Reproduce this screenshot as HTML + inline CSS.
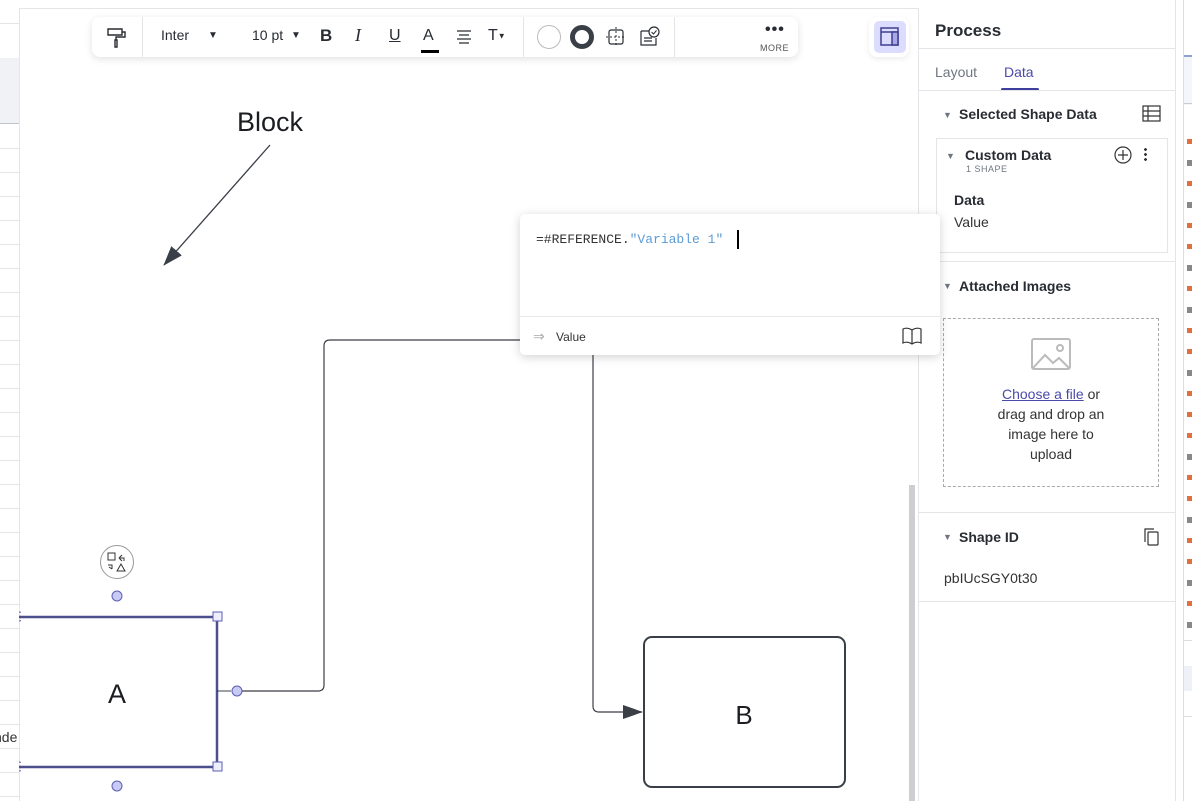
<!DOCTYPE html>
<html><head><meta charset="utf-8"><style>
*{box-sizing:border-box;margin:0;padding:0}
body{width:1192px;height:801px;overflow:hidden;background:#fff;font-family:"Liberation Sans",sans-serif;position:relative;color:#282c33}
.abs{position:absolute}
.tb{left:92px;top:17px;width:706px;height:40px;background:#fff;border-radius:8px;box-shadow:0 2px 8px rgba(0,0,0,.12)}
.sep{position:absolute;top:0;width:1px;height:40px;background:#e3e5e8}
.ti{position:absolute;top:10px;font-size:15px;color:#282c33}
.panel{left:918px;top:8px;width:257px;height:793px;border-left:1px solid #e3e5e8;background:#fff}
.hl{position:absolute;left:0;width:257px;height:1px;background:#e3e5e8}
.bold{font-weight:bold;font-size:14px;color:#282c33}
.tri{font-size:9px;color:#6f7681}
</style></head><body>
<!-- top line -->
<div class="abs" style="left:0;top:8px;width:1175px;height:1px;background:#e3e5e8"></div>

<!-- canvas diagram -->
<svg class="abs" style="left:0;top:0" width="918" height="801">
<defs><marker id="ah" markerWidth="20" markerHeight="14" refX="19" refY="7" orient="auto" markerUnits="userSpaceOnUse"><path d="M0,0 L20,7 L0,14 z" fill="#3a3f47"/></marker></defs>
<line x1="270" y1="145" x2="164" y2="265" stroke="#3a3f47" stroke-width="1.3" marker-end="url(#ah)"/>
<path d="M237,691 H318 Q324,691 324,685 V346 Q324,340 330,340 H520" fill="none" stroke="#3a3f47" stroke-width="1.2"/>
<path d="M593,350 V706 Q593,712 599,712 H642" fill="none" stroke="#3a3f47" stroke-width="1.2" marker-end="url(#ah)"/>
<rect x="644" y="637" width="201" height="150" rx="8" fill="#fff" stroke="#3a3f47" stroke-width="2"/>
<text x="744" y="724" font-size="26" text-anchor="middle" fill="#1b1d21" font-family="Liberation Sans">B</text>
<rect x="10" y="617" width="207" height="150" fill="none" stroke="#4b4f8c" stroke-width="2.5"/>
<line x1="217" y1="691" x2="231" y2="691" stroke="#3a3f47" stroke-width="1"/>
<text x="117" y="703" font-size="27" text-anchor="middle" fill="#1b1d21" font-family="Liberation Sans">A</text>
<rect x="213" y="612" width="9" height="9" fill="#eef" stroke="#5a5fb0"/>
<rect x="213" y="762" width="9" height="9" fill="#eef" stroke="#5a5fb0"/>
<circle cx="237" cy="691" r="5" fill="#c9c9f5" stroke="#5a5fb0"/>
<circle cx="117" cy="596" r="5" fill="#c9c9f5" stroke="#5a5fb0"/>
<circle cx="117" cy="786" r="5" fill="#c9c9f5" stroke="#5a5fb0"/>
<circle cx="117" cy="562" r="16.5" fill="#fff" stroke="#999"/>
<rect x="108" y="553" width="7" height="7" fill="none" stroke="#333"/>
<path d="M119,558 l3,-3 M119,558 l3,3 M119,558 h5 v3" fill="none" stroke="#333"/>
<path d="M108,565 h4 v4 M112,569 l-3,-2" fill="none" stroke="#333"/>
<path d="M117,571 l4,-7 l4,7 z" fill="none" stroke="#333"/>
<text x="270" y="131" font-size="27" text-anchor="middle" fill="#1b1d21" font-family="Liberation Sans">Block</text>
<rect x="909" y="485" width="6" height="316" fill="#cdcdd2"/>
</svg>

<!-- left strip -->
<div class="abs" style="left:0;top:8px;width:20px;height:793px;border-right:1px solid #e3e5e8;background:#fff;z-index:3">
<div class="abs" style="left:0;top:15px;width:19px;height:1px;background:#e3e5e8"></div>
<div class="abs" style="left:0;top:50px;width:19px;height:66px;background:#f1f2f5;border-bottom:1px solid #bfc3ca"></div>
</div>
<svg class="abs" style="left:0;top:0;z-index:4" width="21" height="801">
<g stroke="#e3e5e8" stroke-width="1">
<line x1="0" y1="148.5" x2="19" y2="148.5"/><line x1="0" y1="172.5" x2="19" y2="172.5"/><line x1="0" y1="196.5" x2="19" y2="196.5"/><line x1="0" y1="220.5" x2="19" y2="220.5"/><line x1="0" y1="244.5" x2="19" y2="244.5"/><line x1="0" y1="268.5" x2="19" y2="268.5"/><line x1="0" y1="292.5" x2="19" y2="292.5"/><line x1="0" y1="316.5" x2="19" y2="316.5"/><line x1="0" y1="340.5" x2="19" y2="340.5"/><line x1="0" y1="364.5" x2="19" y2="364.5"/><line x1="0" y1="388.5" x2="19" y2="388.5"/><line x1="0" y1="412.5" x2="19" y2="412.5"/><line x1="0" y1="436.5" x2="19" y2="436.5"/><line x1="0" y1="460.5" x2="19" y2="460.5"/><line x1="0" y1="484.5" x2="19" y2="484.5"/><line x1="0" y1="508.5" x2="19" y2="508.5"/><line x1="0" y1="532.5" x2="19" y2="532.5"/><line x1="0" y1="556.5" x2="19" y2="556.5"/><line x1="0" y1="580.5" x2="19" y2="580.5"/><line x1="0" y1="604.5" x2="19" y2="604.5"/><line x1="0" y1="628.5" x2="19" y2="628.5"/><line x1="0" y1="652.5" x2="19" y2="652.5"/><line x1="0" y1="676.5" x2="19" y2="676.5"/><line x1="0" y1="700.5" x2="19" y2="700.5"/><line x1="0" y1="724.5" x2="19" y2="724.5"/><line x1="0" y1="748.5" x2="19" y2="748.5"/><line x1="0" y1="772.5" x2="19" y2="772.5"/><line x1="0" y1="796.5" x2="19" y2="796.5"/>
</g>
<path d="M19,612 a4,4 0 0 1 0,9 M19,762 a4,4 0 0 1 0,9" fill="none" stroke="#5a5fb0"/>
<line x1="19" y1="617" x2="21" y2="617" stroke="#4b4f8c" stroke-width="2.5"/>
<line x1="19" y1="767" x2="21" y2="767" stroke="#4b4f8c" stroke-width="2.5"/>
</svg>
<div class="abs" style="left:-6px;top:729px;font-size:14px;color:#333;z-index:5">nde</div>

<!-- toolbar -->
<div class="abs tb">
<svg class="abs" style="left:14px;top:9px" width="22" height="22"><path d="M2,3 h14 v6 h-14 z M16,6 h3 v5 h-9 v3 M9,14 h2 v7 h-2 z" fill="none" stroke="#282c33" stroke-width="1.4"/></svg>
<div class="sep" style="left:50px"></div>
<div class="ti" style="left:69px;font-size:14px">Inter</div>
<div class="ti" style="left:116px;font-size:10px;top:13px">▼</div>
<div class="ti" style="left:160px;font-size:14px">10 pt</div>
<div class="ti" style="left:199px;font-size:10px;top:13px">▼</div>
<div class="ti" style="left:228px;font-weight:bold;font-size:17px;top:9px">B</div>
<div class="ti" style="left:263px;font-style:italic;font-family:'Liberation Serif',serif;font-size:18px;top:8px">I</div>
<div class="ti" style="left:297px;text-decoration:underline;font-size:16px">U</div>
<div class="ti" style="left:331px;font-size:16px">A</div>
<div class="abs" style="left:329px;top:33px;width:18px;height:3px;background:#000"></div>
<svg class="abs" style="left:364px;top:12px" width="16" height="16"><path d="M1,2h14M3,6h10M1,10h14M3,14h10" stroke="#282c33" stroke-width="1.2"/></svg>
<div class="ti" style="left:396px;font-size:16px">T<span style="font-size:8px;vertical-align:middle">▼</span></div>
<div class="sep" style="left:431px"></div>
<div class="abs" style="left:445px;top:8px;width:24px;height:24px;border-radius:50%;border:1px solid #bbb"></div>
<div class="abs" style="left:478px;top:8px;width:24px;height:24px;border-radius:50%;border:5px solid #3a3f47"></div>
<svg class="abs" style="left:513px;top:9px" width="22" height="22"><rect x="4" y="4" width="14" height="14" rx="2" fill="none" stroke="#282c33" stroke-width="1.2"/><path d="M11,1v20M1,11h20" stroke="#282c33" stroke-dasharray="2 2"/></svg>
<svg class="abs" style="left:547px;top:9px" width="22" height="22"><path d="M2,5h9M2,5v14h15v-7M5,12h8M5,15h8" fill="none" stroke="#282c33" stroke-width="1.2"/><circle cx="15" cy="6" r="5" fill="#fff" stroke="#282c33" stroke-width="1.2"/><path d="M12.5,6l2,2 3,-3.5" fill="none" stroke="#282c33"/></svg>
<div class="sep" style="left:582px"></div>
<div class="ti" style="left:673px;top:4px;font-size:16px;letter-spacing:1px;font-weight:bold">•••</div>
<div class="ti" style="left:668px;top:26px;font-size:9px;color:#555;letter-spacing:.5px">MORE</div>
</div>
<div class="abs" style="left:869px;top:17px;width:40px;height:40px;background:#fff;border-radius:8px;box-shadow:0 2px 6px rgba(0,0,0,.08)"></div>
<div class="abs" style="left:874px;top:21px;width:32px;height:32px;background:#dcdcff;border-radius:5px"></div>
<svg class="abs" style="left:880px;top:27px" width="20" height="20"><rect x="1" y="1" width="17" height="17" fill="none" stroke="#3e3e8f" stroke-width="1.5"/><line x1="1" y1="5" x2="18" y2="5" stroke="#3e3e8f" stroke-width="1.5"/><rect x="12" y="5" width="6" height="13" fill="#a8a8e8" stroke="#3e3e8f" stroke-width="1.5"/></svg>

<!-- right panel -->
<div class="abs panel">
<div class="abs bold" style="left:16px;top:13px;font-size:17px">Process</div>
<div class="hl" style="top:40px"></div>
<div class="abs" style="left:16px;top:56px;font-size:14px;color:#6f7681">Layout</div>
<div class="abs" style="left:85px;top:56px;font-size:14px;color:#4a4aa8">Data</div>
<div class="abs" style="left:82px;top:80px;width:38px;height:3px;background:#3e3e9f;border-radius:2px"></div>
<div class="hl" style="top:82px"></div>
<div class="abs tri" style="left:24px;top:102px">▼</div>
<div class="abs bold" style="left:40px;top:98px">Selected Shape Data</div>
<svg class="abs" style="left:223px;top:97px" width="20" height="18"><rect x="1" y="1" width="17" height="15" fill="none" stroke="#333" stroke-width="1.2"/><path d="M1,6h17M1,11h17M6,1v15" stroke="#333" stroke-width="1.2"/></svg>
<div class="abs" style="left:17px;top:130px;width:232px;height:115px;border:1px solid #e3e5e8"></div>
<div class="abs tri" style="left:27px;top:143px">▼</div>
<div class="abs bold" style="left:46px;top:139px">Custom Data</div>
<div class="abs" style="left:47px;top:156px;font-size:9px;color:#6f7681;letter-spacing:.5px">1 SHAPE</div>
<svg class="abs" style="left:194px;top:137px" width="20" height="20"><circle cx="10" cy="10" r="8" fill="none" stroke="#333" stroke-width="1.2"/><path d="M10,5v10M5,10h10" stroke="#333" stroke-width="1.2"/></svg>
<div class="abs" style="left:225px;top:139px;width:3px;height:14px;background:radial-gradient(circle,#333 1.3px,transparent 1.5px) 0 0/3px 5px"></div>
<div class="abs bold" style="left:35px;top:184px">Data</div>
<div class="abs" style="left:35px;top:206px;font-size:14px;color:#333">Value</div>
<div class="hl" style="top:253px"></div>
<div class="abs tri" style="left:24px;top:273px">▼</div>
<div class="abs bold" style="left:40px;top:270px">Attached Images</div>
<div class="abs" style="left:24px;top:310px;width:216px;height:169px;border:1px dashed #aaa"></div>
<svg class="abs" style="left:112px;top:330px" width="42" height="34"><rect x="1" y="1" width="38" height="30" rx="2" fill="none" stroke="#bbb" stroke-width="2"/><path d="M2,30 L14,17 L22,25 L28,20 L38,30" fill="none" stroke="#bbb" stroke-width="2"/><circle cx="29" cy="10" r="3" fill="none" stroke="#bbb" stroke-width="2"/></svg>
<div class="abs" style="left:24px;top:376px;width:216px;text-align:center;font-size:14px;line-height:20px;color:#333"><span style="color:#4a4aa8;text-decoration:underline">Choose a file</span> or<br>drag and drop an<br>image here to<br>upload</div>
<div class="hl" style="top:504px"></div>
<div class="abs tri" style="left:24px;top:524px">▼</div>
<div class="abs bold" style="left:40px;top:521px">Shape ID</div>
<svg class="abs" style="left:222px;top:519px" width="20" height="20"><path d="M4,15V2h9" fill="none" stroke="#333" stroke-width="1.2"/><rect x="7" y="5" width="10" height="13" rx="1" fill="none" stroke="#333" stroke-width="1.2"/></svg>
<div class="abs" style="left:25px;top:562px;font-size:14px;color:#333">pbIUcSGY0t30</div>
<div class="hl" style="top:593px"></div>
</div>

<!-- formula popup (on top) -->
<div class="abs" style="left:520px;top:214px;width:420px;height:141px;background:#fff;border-radius:5px;box-shadow:0 2px 10px rgba(0,0,0,.18);z-index:10">
<div class="abs" style="left:16px;top:18px;font-family:'Liberation Mono',monospace;font-size:13px;color:#333">=#REFERENCE.<span style="color:#5b9bd5">"Variable 1"</span></div>
<div class="abs" style="left:217px;top:16px;width:2px;height:19px;background:#000"></div>
<div class="abs" style="left:0;top:102px;width:420px;height:1px;background:#e8e9ec"></div>
<div class="abs" style="left:13px;top:114px;font-size:14px;color:#aaa">⇒</div>
<div class="abs" style="left:36px;top:116px;font-size:12px;color:#333">Value</div>
<svg class="abs" style="left:382px;top:113px" width="20" height="18"><path d="M1,2 Q5,0 10,3 Q15,0 19,2 V16 Q15,14 10,17 Q5,14 1,16 Z M10,3V17" fill="none" stroke="#333" stroke-width="1.2"/></svg>
</div>

<!-- right strip -->
<div class="abs" style="left:1175px;top:0;width:17px;height:801px;background:#fff;border-left:1px solid #e3e5e8"></div>
<div class="abs" style="left:1183px;top:0;width:1px;height:801px;background:#d8dcea"></div>
<div class="abs" style="left:1184px;top:55px;width:8px;height:50px;border-top:2px solid #8da0d8;background:#f4f6fc"></div>
<div class="abs" style="left:1184px;top:103px;width:8px;height:1px;background:#ccc"></div>
<svg class="abs" style="left:1184px;top:0" width="8" height="801">
<rect x="3" y="139" width="5" height="5" fill="#e07040"/><rect x="3" y="160" width="5" height="6" fill="#888"/><rect x="3" y="181" width="5" height="5" fill="#e07040"/><rect x="3" y="202" width="5" height="6" fill="#888"/><rect x="3" y="223" width="5" height="5" fill="#e07040"/><rect x="3" y="244" width="5" height="5" fill="#e07040"/><rect x="3" y="265" width="5" height="6" fill="#888"/><rect x="3" y="286" width="5" height="5" fill="#e07040"/><rect x="3" y="307" width="5" height="6" fill="#888"/><rect x="3" y="328" width="5" height="5" fill="#e07040"/><rect x="3" y="349" width="5" height="5" fill="#e07040"/><rect x="3" y="370" width="5" height="6" fill="#888"/><rect x="3" y="391" width="5" height="5" fill="#e07040"/><rect x="3" y="412" width="5" height="5" fill="#e07040"/><rect x="3" y="433" width="5" height="5" fill="#e07040"/><rect x="3" y="454" width="5" height="6" fill="#888"/><rect x="3" y="475" width="5" height="5" fill="#e07040"/><rect x="3" y="496" width="5" height="5" fill="#e07040"/><rect x="3" y="517" width="5" height="6" fill="#888"/><rect x="3" y="538" width="5" height="5" fill="#e07040"/><rect x="3" y="559" width="5" height="5" fill="#e07040"/><rect x="3" y="580" width="5" height="6" fill="#888"/><rect x="3" y="601" width="5" height="5" fill="#e07040"/><rect x="3" y="622" width="5" height="6" fill="#888"/>
<rect x="0" y="666" width="8" height="25" fill="#eef1f8"/>
<line x1="0" y1="640.5" x2="8" y2="640.5" stroke="#ddd"/>
<line x1="0" y1="716.5" x2="8" y2="716.5" stroke="#ddd"/>
</svg>
</body></html>
